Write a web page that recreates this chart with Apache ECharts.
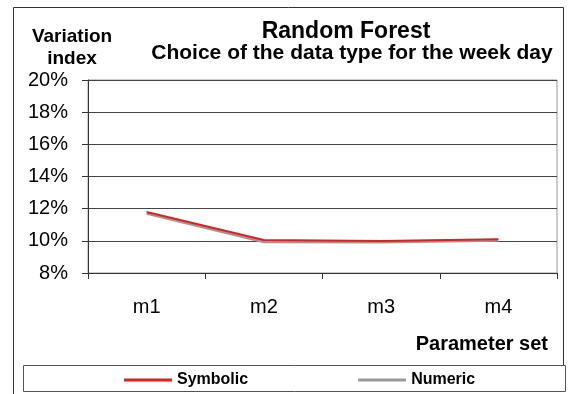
<!DOCTYPE html>
<html><head><meta charset="utf-8">
<script src="https://cdn.jsdelivr.net/npm/echarts@6/dist/echarts.min.js"></script>
<style>html,body{margin:0;padding:0;background:#fff}#c{width:568px;height:394px}</style>
</head><body><div id="c"></div>
<script>
var categories = ['m1', 'm2', 'm3', 'm4'];
var symbolic = [11.79, 10.05, 9.99, 10.1];
var numeric = [11.72, 9.94, 9.92, 10.03];
var yTicks = [8, 10, 12, 14, 16, 18, 20];

var chart = echarts.init(document.getElementById('c'));
var F = 'Liberation Sans, Arial, sans-serif';
chart.setOption({
  animation: false,
  grid: {left: 88, right: 11, top: 80, bottom: 121, show: true, borderColor: '#999', borderWidth: 1},
  title: [
    {text: 'Random Forest', left: 341, top: 15, textAlign: 'center',
     textStyle: {fontFamily: F, fontSize: 23, fontWeight: 'bold', color: '#000'}},
    {text: 'Choice of the data type for the week day', left: 347, top: 38, textAlign: 'center',
     textStyle: {fontFamily: F, fontSize: 21, fontWeight: 'bold', color: '#000'}}
  ],
  legend: {
    left: 119, top: 367, itemWidth: 48, itemHeight: 3, itemGap: 110,
    icon: 'rect',
    textStyle: {fontFamily: F, fontSize: 16, fontWeight: 'bold', color: '#000'},
    data: ['Symbolic', 'Numeric']
  },
  graphic: [
    {type: 'polyline', shape: {points: [[13.5, 394], [13.5, 7.5], [563.5, 7.5], [563.5, 365]]}, style: {stroke: '#333', lineWidth: 1, fill: null}},
    {type: 'rect', shape: {x: 23.5, y: 365.5, width: 542, height: 26}, style: {stroke: '#555', lineWidth: 1, fill: null}},
    {type: 'text', x: 72, y: 26, style: {text: 'Variation\nindex', font: 'bold 19px ' + F, fill: '#000', lineHeight: 22, align: 'center'}},
    {type: 'text', right: 20, top: 334, style: {text: 'Parameter set', font: 'bold 20px ' + F, fill: '#000'}}
  ],
  xAxis: {
    type: 'category', data: categories, boundaryGap: true,
    axisLine: {lineStyle: {color: '#333', width: 1}},
    axisTick: {show: true, length: 6, inside: false, lineStyle: {color: '#333'}},
    axisLabel: {fontFamily: F, fontSize: 20, color: '#000', margin: 24}
  },
  yAxis: {
    type: 'value', min: 8, max: 20, interval: 2,
    axisLine: {show: true, lineStyle: {color: '#333', width: 1}},
    axisTick: {show: true, length: 6, lineStyle: {color: '#333'}},
    axisLabel: {fontFamily: F, fontSize: 20, color: '#000', margin: 20, formatter: function (v) { return yTicks.indexOf(v) >= 0 ? v + '%' : ''; }},
    splitLine: {lineStyle: {color: '#444', width: 1}}
  },
  series: [
    {name: 'Numeric', type: 'line', data: numeric, symbol: 'none', lineStyle: {color: '#9a9a9a', width: 3}, itemStyle: {color: '#9a9a9a'}, z: 2},
    {name: 'Symbolic', type: 'line', data: symbolic, symbol: 'none', lineStyle: {color: '#e02020', width: 2}, itemStyle: {color: '#e02020'}, z: 3}
  ]
});
</script></body></html>
